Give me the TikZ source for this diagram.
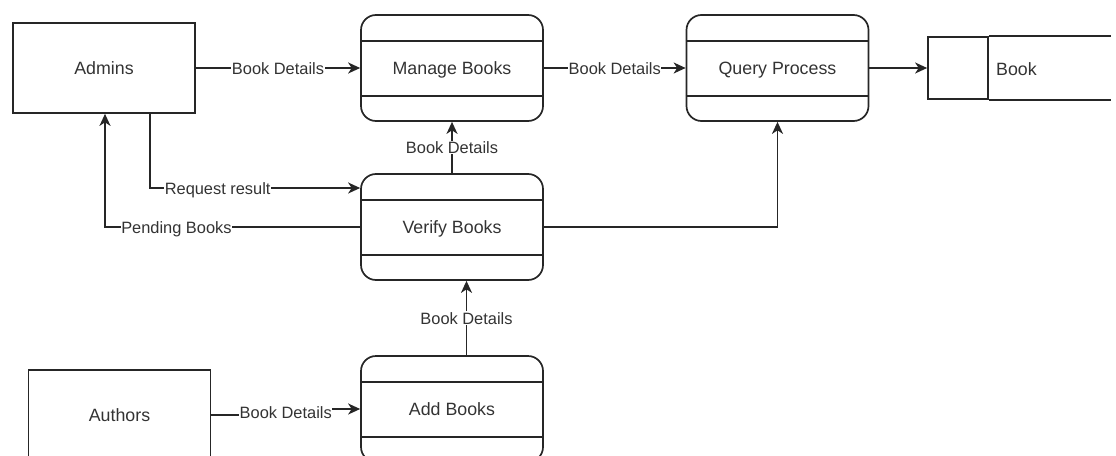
\documentclass[tikz,border=0pt]{standalone}
\usepackage{fontspec}
\setmainfont{Liberation Sans}
\usetikzlibrary{arrows.meta,calc}
\definecolor{ink}{HTML}{262626}
\definecolor{txt}{HTML}{333333}
\tikzset{
  entity/.style={draw=ink, line width=1.7pt, minimum width=182pt, minimum height=90pt,
    inner sep=0pt, text=txt, text height=13.5pt, text depth=0pt,
    font=\fontsize{17.8}{20}\selectfont},
  proc/.style={draw=ink, line width=1.7pt, rounded corners=15pt, minimum width=182pt,
    minimum height=106pt, inner sep=0pt, text=txt, text height=13.5pt, text depth=0pt,
    font=\fontsize{17.8}{20}\selectfont},
  plain/.style={draw=ink, line width=1.7pt},
  flow/.style={plain, -{Stealth[length=12pt,width=11pt,inset=3.5pt]}},
  lbl/.style={fill=white, inner sep=0.6pt, text=txt, text height=12.5pt, text depth=0pt,
    font=\fontsize{16.4}{18}\selectfont},
}
\begin{document}
\begin{tikzpicture}[x=1pt,y=-1pt]
\useasboundingbox (0,0) rectangle (1116,455);
\clip (0,0) rectangle (1116,455);

% external entities
\node[entity] (admins)  at (104,68)    {Admins};
\node[entity] (authors) at (119.5,415) {Authors};

% processes
\node[proc] (manage) at (452,68)    {Manage Books};
\node[proc] (query)  at (777.5,68)  {Query Process};
\node[proc] (verify) at (452,227)   {Verify Books};
\node[proc] (add)    at (452,409)   {Add Books};

% header and footer bands of each process
\foreach \p in {manage,query,verify,add}{
  \draw[plain] ($(\p.north west)+(0,27)$) -- ($(\p.north east)+(0,27)$);
  \draw[plain] ($(\p.south west)+(0,-26)$) -- ($(\p.south east)+(0,-26)$);
}

% data store
\node[draw=ink, line width=1.7pt, minimum width=60pt, minimum height=62pt, inner sep=0pt]
  (store) at (958,68) {};
\draw[plain] (store.north east) -- ++(122,0);
\draw[plain] (store.south east) -- ++(122,0);
\node[anchor=west, inner sep=0pt, text=txt, text height=13.5pt, text depth=0pt,
  font=\fontsize{17.8}{20}\selectfont] (storename) at (996,69) {Book};

% data flows
\draw[flow] (admins.east) -- (manage.west) node[lbl,midway] {Book Details};
\draw[flow] (manage.east) -- (query.west)  node[lbl,midway] {Book Details};
\draw[flow] (query.east) -- (store.west);
\draw[flow] (verify.north) -- (manage.south) node[lbl,midway] {Book Details};
\draw[flow] ([xshift=14.5pt]add.north) -- ([xshift=14.5pt]verify.south)
  node[lbl,midway] {Book Details};
\draw[flow] (authors.east) -- ++(74,0) |- (add.west);
\path (authors.east) -- (add.west) node[lbl,midway] {Book Details};
\draw[flow] (verify.west) -| ([xshift=1pt]admins.south)
  node[lbl,pos=0.36] {Pending Books};
\draw[flow] ([xshift=46pt]admins.south) |- ([yshift=39pt]verify.west)
  node[lbl,pos=0.661] {Request result};
\draw[flow] (verify.east) -| (query.south);
\end{tikzpicture}
\end{document}
